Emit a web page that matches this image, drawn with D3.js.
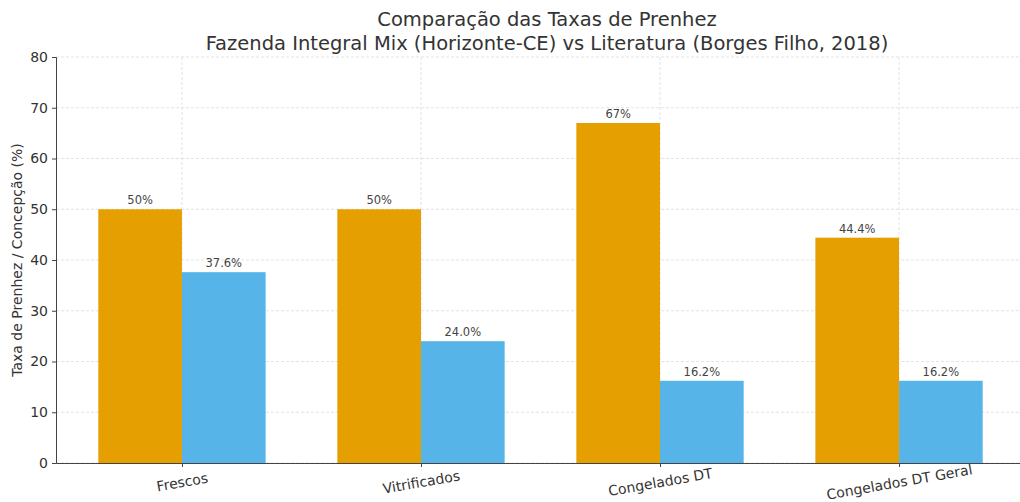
<!DOCTYPE html>
<html>
<head>
<style>
    body { margin: 0; background: #fff; }
    svg { display: block; font-family: "DejaVu Sans", sans-serif; }
</style>
</head>
<body>
<svg width="1020" height="502"></svg>
<script src="https://d3js.org/d3.v7.min.js"></script>
<script>
    // Data
    const categories = ["Frescos", "Vitrificados", "Congelados DT", "Congelados DT Geral"];
    const fazendaValues = [50, 50, 67, 44.4];
    const fazendaLabels = ["50%", "50%", "67%", "44.4%"];
    const literaturaValues = [37.6, 24.0, 16.2, 16.2];
    const literaturaLabels = ["37.6%", "24.0%", "16.2%", "16.2%"];
    const yTicks = [0, 10, 20, 30, 40, 50, 60, 70, 80];

    const svg = d3.select("svg");
    const plotLeft = 56, plotRight = 1025, plotTop = 57, plotBottom = 463;

    // categories sit at 0..3, axis spans a bit beyond
    const x = d3.scaleLinear().domain([-0.527, 3.527]).range([plotLeft, plotRight]);
    const y = d3.scaleLinear().domain([0, 80]).range([plotBottom, plotTop]);
    const barW = x(0.35) - x(0);

    // grid
    const grid = svg.append("g");
    grid.selectAll(".hg").data(yTicks).join("line")
        .attr("x1", plotLeft).attr("x2", plotRight)
        .attr("y1", d => y(d)).attr("y2", d => y(d))
        .attr("stroke", "#dcdcdc").attr("stroke-dasharray", "3,2").attr("stroke-width", 0.8);
    grid.selectAll(".vg").data(categories).join("line")
        .attr("x1", (d, i) => x(i)).attr("x2", (d, i) => x(i))
        .attr("y1", plotTop).attr("y2", plotBottom)
        .attr("stroke", "#dcdcdc").attr("stroke-dasharray", "3,2").attr("stroke-width", 0.8);

    // bars
    const series = [
        { values: fazendaValues, labels: fazendaLabels, color: "#E69F00", off: -1 },
        { values: literaturaValues, labels: literaturaLabels, color: "#56B4E9", off: 0 }
    ];
    series.forEach(s => {
        svg.append("g").selectAll("rect").data(s.values).join("rect")
            .attr("x", (d, i) => x(i) + s.off * barW)
            .attr("y", d => y(d))
            .attr("width", barW)
            .attr("height", d => plotBottom - y(d))
            .attr("fill", s.color);
        svg.append("g").selectAll("text").data(s.values).join("text")
            .attr("x", (d, i) => x(i) + s.off * barW + barW / 2)
            .attr("y", d => y(d) - 5)
            .attr("text-anchor", "middle")
            .attr("font-size", 11.5)
            .attr("fill", "#444")
            .text((d, i) => s.labels[i]);
    });

    // axes
    const yAxis = svg.append("g")
        .attr("transform", `translate(${plotLeft},0)`)
        .call(d3.axisLeft(y).tickValues(yTicks).tickSize(4).tickPadding(4));
    yAxis.select(".domain").attr("stroke", "#444");
    yAxis.selectAll(".tick line").attr("stroke", "#444");
    yAxis.selectAll("text").attr("font-size", 14).attr("fill", "#333")
        .attr("font-family", "DejaVu Sans, sans-serif");

    const xAxis = svg.append("g")
        .attr("transform", `translate(0,${plotBottom})`)
        .call(d3.axisBottom(x).tickValues(d3.range(categories.length))
            .tickFormat(i => categories[i]).tickSize(4).tickSizeOuter(0));
    xAxis.select(".domain").attr("stroke", "#444");
    xAxis.selectAll(".tick line").attr("stroke", "#444");
    xAxis.selectAll("text")
        .attr("font-size", 14).attr("fill", "#333")
        .attr("font-family", "DejaVu Sans, sans-serif")
        .attr("y", 0).attr("dy", 0)
        .attr("transform", "translate(0,20) rotate(-10)")
        .attr("dominant-baseline", "middle");

    // y label
    svg.append("text")
        .attr("transform", `translate(22,${(plotTop + plotBottom) / 2}) rotate(-90)`)
        .attr("text-anchor", "middle")
        .attr("font-size", 14)
        .attr("fill", "#333")
        .text("Taxa de Prenhez / Concepção (%)");

    // title
    svg.append("text")
        .attr("x", 547).attr("y", 26)
        .attr("text-anchor", "middle")
        .attr("font-size", 19.5).attr("fill", "#333")
        .text("Comparação das Taxas de Prenhez");
    svg.append("text")
        .attr("x", 547).attr("y", 50)
        .attr("text-anchor", "middle")
        .attr("font-size", 19.5).attr("fill", "#333")
        .text("Fazenda Integral Mix (Horizonte-CE) vs Literatura (Borges Filho, 2018)");
</script>
</body>
</html>
